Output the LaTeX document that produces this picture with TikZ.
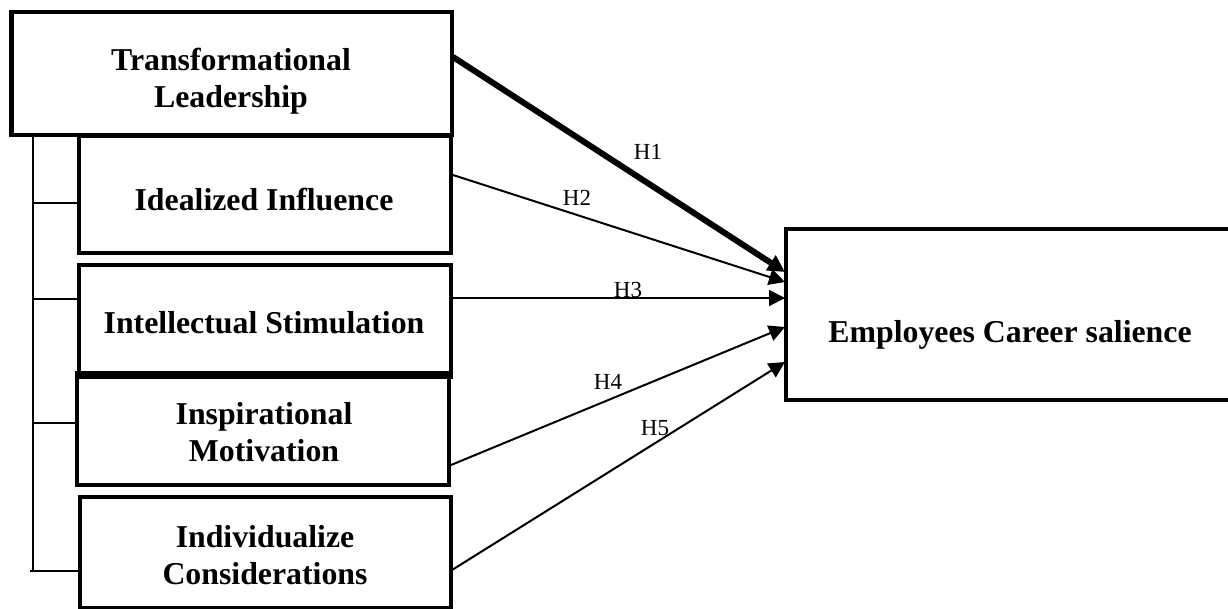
\documentclass[tikz,border=0pt]{standalone}
\usepackage{fontspec}
\setmainfont{Liberation Serif}
\usetikzlibrary{arrows.meta}
\begin{document}
\begin{tikzpicture}[x=1pt,y=-1pt,
  boxshape/.style={draw=black,line width=4.5pt,rectangle,inner sep=0pt},
  boxtext/.style={font=\fontsize{31.8}{36.6}\selectfont\bfseries,align=center,inner sep=0pt},
  hlabel/.style={font=\fontsize{23}{26}\selectfont,inner sep=0pt},
  tie/.style={line width=1.6pt},
  arr/.style={line width=2pt,-{Triangle[length=16pt,width=16pt]}},
  thickarr/.style={line width=6pt,-{Triangle[length=17pt,width=17pt]}}]
\useasboundingbox (0,0) rectangle (1228,609);
\clip (0,0) rectangle (1228,609);
% boxes
\node[boxshape,minimum width=440.5pt,minimum height=123pt] (tl) at (231.75,73.5) {};
\node[boxshape,minimum width=372pt,minimum height=117pt] (ii) at (265,194.5) {};
\node[boxshape,minimum width=372pt,minimum height=112pt] (is) at (265,321) {};
\node[boxshape,minimum width=372pt,minimum height=112pt] (im) at (263,429) {};
\node[boxshape,minimum width=371pt,minimum height=111pt] (ic) at (265.5,552.5) {};
\node[boxshape,minimum width=460pt,minimum height=171pt] (ecs) at (1016,314.5) {};
% texts
\node[boxtext] (tlt) at (231,81) {Transformational\\Leadership};
\node[boxtext] (iit) at (264,200) {Idealized Influence};
\node[boxtext] (ist) at (264,323) {Intellectual Stimulation};
\node[boxtext] (imt) at (264,432) {Inspirational\\Motivation};
\node[boxtext] (ict) at (265,555) {Individualize\\Considerations};
\node[boxtext] (ecst) at (1010,335) {Employees Career salience};
% bracket
\coordinate (bt) at (33,137);
\coordinate (bb) at (33,571);
\coordinate (bbl) at (30,571);
\draw[tie] (bt) -- (bb);
\draw[tie] (33,203) -- (ii.west |- 0,203);
\draw[tie] (33,299) -- (is.west |- 0,299);
\draw[tie] (33,423) -- (im.west |- 0,423);
\draw[tie] (bbl) -- (ic.west |- bbl);
% arrow endpoints
\coordinate (s1) at (453,57);
\coordinate (s2) at (453,175);
\coordinate (s3) at (453,298);
\coordinate (s4) at (451,465);
\coordinate (s5) at (452,570);
\coordinate (e1) at (785,272);
\coordinate (e2) at (785,282);
\coordinate (e3) at (785,298);
\coordinate (e4) at (785,327);
\coordinate (e5) at (785,362);
\draw[thickarr] (s1) -- (e1);
\draw[arr] (s2) -- (e2);
\draw[arr] (s3) -- (e3);
\draw[arr] (s4) -- (e4);
\draw[arr] (s5) -- (e5);
% labels
\node[hlabel] (h1) at (648,152) {H1};
\node[hlabel] (h2) at (577,198) {H2};
\node[hlabel] (h3) at (628,290) {H3};
\node[hlabel] (h4) at (608,382) {H4};
\node[hlabel] (h5) at (655,428) {H5};
\end{tikzpicture}
\end{document}
